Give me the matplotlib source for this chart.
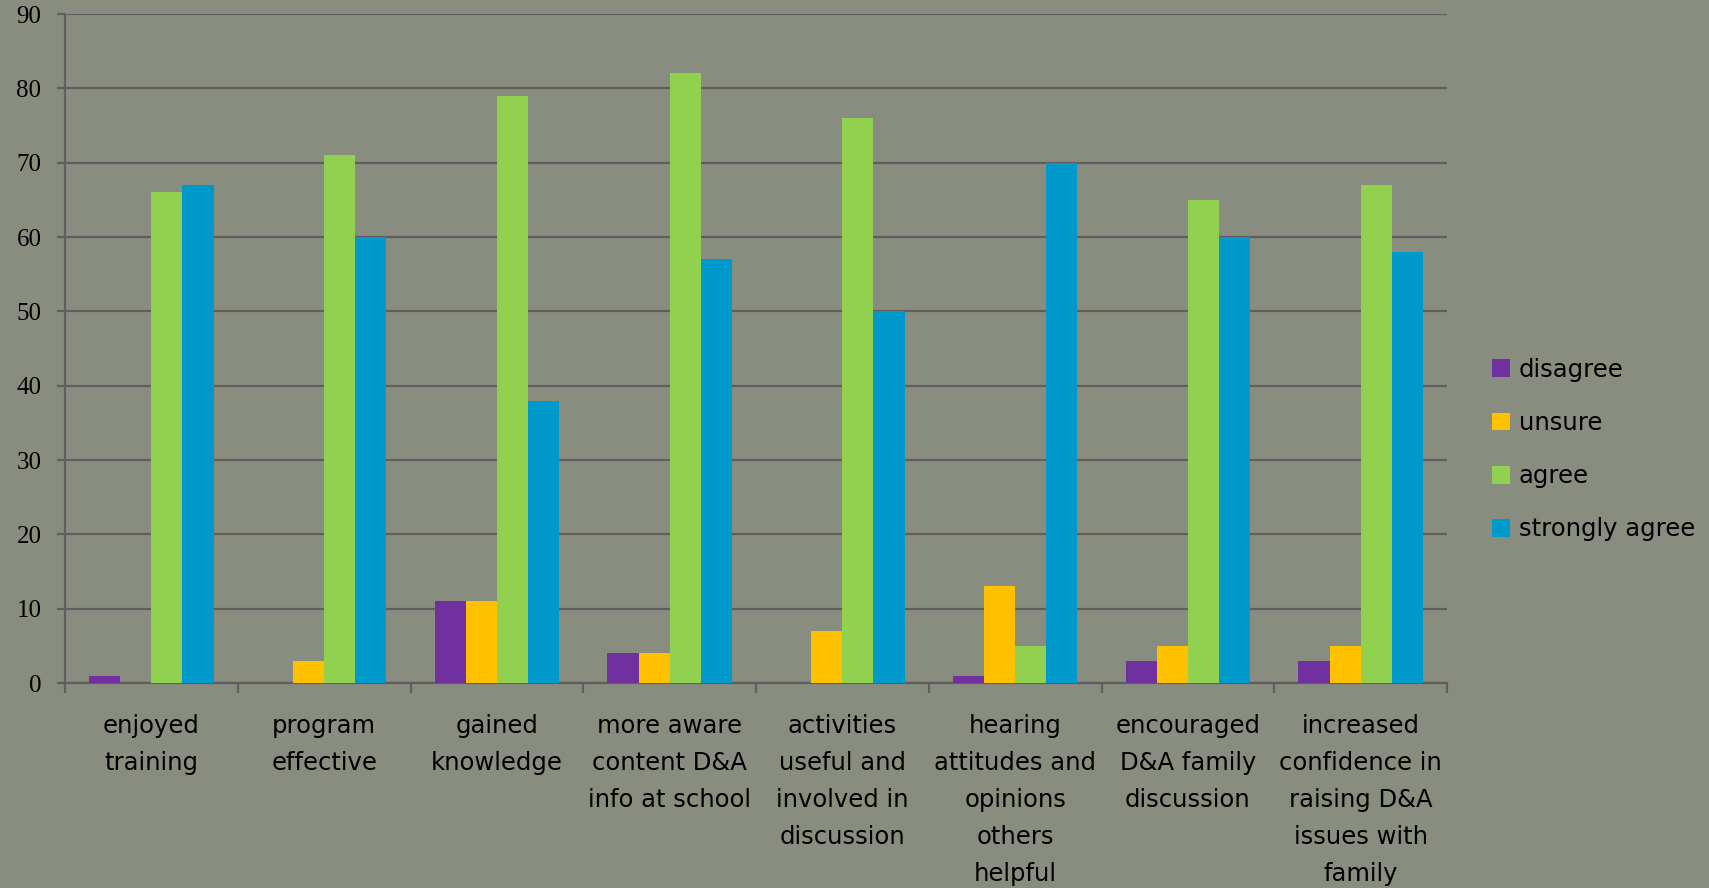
import matplotlib
matplotlib.use("Agg")
import matplotlib.pyplot as plt
import numpy as np

categories = [
    "enjoyed\ntraining",
    "program\neffective",
    "gained\nknowledge",
    "more aware\ncontent D&A\ninfo at school",
    "activities\nuseful and\ninvolved in\ndiscussion",
    "hearing\nattitudes and\nopinions\nothers\nhelpful",
    "encouraged\nD&A family\ndiscussion",
    "increased\nconfidence in\nraising D&A\nissues with\nfamily",
]
series_names = ["disagree", "unsure", "agree", "strongly agree"]
disagree = [1, 0, 11, 4, 0, 1, 3, 3]
unsure = [0, 3, 11, 4, 7, 13, 5, 5]
agree = [66, 71, 79, 82, 76, 5, 65, 67]
strongly_agree = [67, 60, 38, 57, 50, 70, 60, 58]
yticks = [0, 10, 20, 30, 40, 50, 60, 70, 80, 90]

colors = ["#7030A0", "#FFC000", "#92D050", "#0099CC"]
bg = "#888d80"
grid_c = "#5e5f5e"

fig = plt.figure(figsize=(17.09, 8.88), dpi=100, facecolor=bg)
ax = fig.add_axes([65 / 1709, 1 - 683 / 888, (1447 - 65) / 1709, (683 - 14) / 888])
ax.set_facecolor(bg)

n = len(categories)
x = np.arange(n)
w = 0.18
data = [disagree, unsure, agree, strongly_agree]
for i, (vals, name, c) in enumerate(zip(data, series_names, colors)):
    ax.bar(x + (i - 1.5) * w, vals, width=w, color=c, label=name, zorder=3, linewidth=0)

ax.set_xlim(-0.5, n - 0.5)
ax.set_ylim(0, 90)
ax.set_yticks(yticks)
ax.set_yticklabels([str(v) for v in yticks], fontfamily="Liberation Serif", fontsize=18)
ax.yaxis.grid(True, color=grid_c, linewidth=1.6, zorder=0)
ax.set_axisbelow(True)

ax.set_xticks(x)
ax.set_xticklabels(categories, fontfamily="DejaVu Sans", fontsize=17.5, linespacing=1.69,
                   va="top")
ax.set_xticks(np.arange(-0.5, n, 1.0), minor=True)
ax.tick_params(axis="x", which="major", length=0, pad=22)
ax.tick_params(axis="x", which="minor", length=7, width=1.6, color=grid_c, direction="out")
ax.tick_params(axis="y", length=6, width=1.6, color=grid_c, pad=11)

for s in ["top", "right"]:
    ax.spines[s].set_visible(False)
ax.spines["left"].set_color(grid_c)
ax.spines["left"].set_linewidth(1.6)
ax.spines["bottom"].set_color(grid_c)
ax.spines["bottom"].set_linewidth(1.6)

leg = fig.legend(loc="upper left", bbox_to_anchor=(1470 / 1709, 1 - 336 / 888),
                 frameon=False, handlelength=0.75, handleheight=0.75,
                 handletextpad=0.35, labelspacing=1.2, prop={"family": "DejaVu Sans", "size": 17.5})

fig.savefig("out.png", dpi=100, facecolor=bg)
